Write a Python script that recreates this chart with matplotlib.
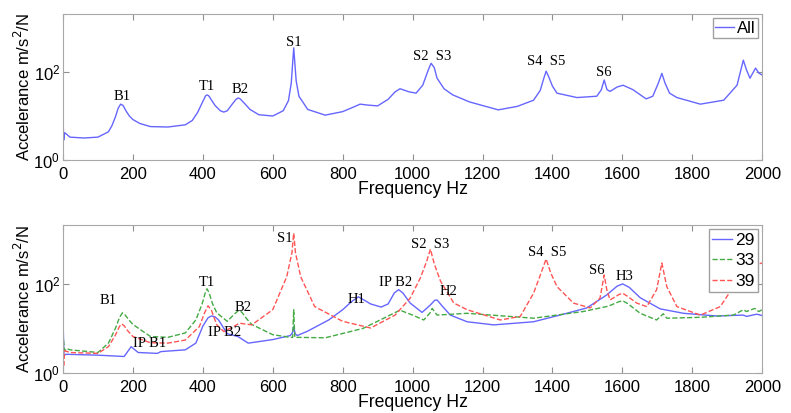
import numpy as np
import matplotlib.pyplot as plt

# accelerance readings, stored as log10 values
freq_all = [0, 2, 5, 10, 20, 60, 100, 130, 140, 150, 158, 165, 172, 180, 190, 200, 220, 250, 300, 350,
            370, 385, 400, 408, 413, 418, 425, 435, 450, 460, 470, 485, 495, 501, 507, 520, 535, 560, 600,
            630, 645, 653, 660, 667, 675, 700, 750, 800, 830, 850, 870, 900, 930, 950, 964, 990, 1010, 1029,
            1045, 1053, 1062, 1070, 1090, 1115, 1163, 1245, 1300, 1346, 1365, 1375, 1382, 1390, 1400, 1413,
            1470, 1527, 1540, 1548, 1556, 1565, 1585, 1602, 1630, 1668, 1687, 1703, 1713, 1722, 1735, 1756,
            1823, 1890, 1928, 1946, 1955, 1965, 1981, 1990, 2000]
log_all = [1.05, 0.45, 0.62, 0.59, 0.52, 0.50, 0.52, 0.64, 0.78, 0.98, 1.18, 1.27, 1.24, 1.12, 1.00, 0.92,
           0.83, 0.76, 0.75, 0.80, 0.90, 1.08, 1.33, 1.46, 1.48, 1.45, 1.36, 1.24, 1.12, 1.09, 1.12, 1.28,
           1.38, 1.41, 1.39, 1.28, 1.15, 1.03, 1.00, 1.12, 1.35, 1.75, 2.55, 1.80, 1.45, 1.15, 1.02, 1.10,
           1.20, 1.27, 1.25, 1.23, 1.38, 1.55, 1.62, 1.55, 1.52, 1.70, 2.05, 2.20, 2.10, 1.86, 1.62, 1.48,
           1.32, 1.14, 1.22, 1.36, 1.58, 1.85, 2.02, 1.88, 1.68, 1.52, 1.42, 1.45, 1.60, 1.82, 1.60, 1.56,
           1.66, 1.70, 1.60, 1.39, 1.45, 1.75, 1.97, 1.75, 1.52, 1.42, 1.27, 1.36, 1.70, 2.27, 2.05, 1.86,
           2.09, 1.98, 1.93]

freq_29 = [0, 3, 10, 100, 175, 185, 195, 215, 270, 280, 350, 380, 400, 415, 425, 435, 445, 470, 500, 530,
           600, 650, 656, 660, 664, 670, 700, 760, 800, 825, 845, 865, 880, 910, 930, 948, 960, 972, 993,
           1027, 1050, 1063, 1070, 1085, 1108, 1156, 1232, 1346, 1441, 1498, 1555, 1585, 1601, 1620, 1651,
           1708, 1775, 1870, 1946, 1955, 1984, 2000]
log_29 = [1.20, 0.40, 0.42, 0.40, 0.37, 0.48, 0.59, 0.46, 0.44, 0.48, 0.52, 0.67, 1.05, 1.24, 1.28, 1.26,
          1.19, 0.88, 0.82, 0.67, 0.75, 0.84, 0.90, 1.04, 0.88, 0.84, 0.94, 1.19, 1.42, 1.60, 1.71, 1.62,
          1.55, 1.48, 1.55, 1.80, 1.87, 1.80, 1.57, 1.36, 1.52, 1.63, 1.64, 1.50, 1.30, 1.15, 1.08, 1.15,
          1.34, 1.46, 1.75, 1.95, 2.00, 1.92, 1.69, 1.44, 1.34, 1.28, 1.30, 1.27, 1.32, 1.29]

freq_33 = [0, 4, 10, 20, 100, 130, 150, 162, 170, 178, 190, 200, 250, 300, 350, 380, 398, 407, 412, 418,
           428, 440, 470, 490, 500, 505, 512, 525, 540, 600, 650, 657, 660, 663, 670, 750, 858, 964, 1000,
           1032, 1050, 1056, 1070, 1156, 1346, 1488, 1560, 1590, 1601, 1615, 1651, 1698, 1717, 1727, 1823,
           1918, 1946, 1955, 1979, 1990, 2000]
log_33 = [0.90, 0.50, 0.55, 0.52, 0.46, 0.67, 1.00, 1.25, 1.35, 1.30, 1.18, 1.09, 0.82, 0.80, 0.90, 1.19,
          1.55, 1.80, 1.89, 1.80, 1.55, 1.35, 1.16, 1.32, 1.39, 1.40, 1.36, 1.22, 1.09, 0.86, 0.80, 0.80,
          1.42, 0.80, 0.80, 0.79, 1.00, 1.41, 1.30, 1.19, 1.35, 1.45, 1.30, 1.34, 1.23, 1.38, 1.50, 1.60,
          1.62, 1.56, 1.34, 1.19, 1.33, 1.23, 1.25, 1.30, 1.42, 1.38, 1.45, 1.38, 1.42]

freq_39 = [0, 2, 5, 20, 100, 130, 150, 162, 168, 175, 185, 200, 250, 300, 350, 390, 405, 415, 425, 440,
           460, 490, 505, 520, 540, 600, 640, 655, 660, 665, 680, 720, 800, 880, 950, 993, 1022, 1040, 1051,
           1062, 1080, 1118, 1156, 1251, 1308, 1346, 1370, 1382, 1395, 1413, 1460, 1508, 1536, 1548, 1556,
           1565, 1590, 1601, 1615, 1641, 1670, 1698, 1713, 1727, 1756, 1823, 1880, 1918, 1956, 2000]
log_39 = [0.46, 0.14, 0.50, 0.46, 0.44, 0.59, 0.85, 1.05, 1.10, 1.06, 0.95, 0.82, 0.68, 0.67, 0.74, 1.04,
          1.35, 1.51, 1.40, 1.08, 0.93, 1.05, 1.12, 1.10, 1.08, 1.42, 2.16, 2.70, 3.14, 2.70, 2.16, 1.49,
          1.16, 1.01, 1.30, 1.68, 2.13, 2.50, 2.78, 2.45, 2.06, 1.57, 1.42, 1.19, 1.27, 1.79, 2.30, 2.56,
          2.25, 1.94, 1.57, 1.46, 1.68, 2.20, 1.85, 1.64, 1.76, 1.79, 1.72, 1.57, 1.49, 1.87, 2.47, 1.94,
          1.49, 1.30, 1.49, 1.94, 2.38, 2.47]

# mode labels: (text, freq, log10 level)
labels_top = [("B1", 169, 1.45), ("T1", 413, 1.66), ("B2", 507, 1.61), ("S1", 659, 2.68),
              ("S2  S3", 1055, 2.36), ("S4  S5", 1382, 2.23), ("S6", 1546, 1.98)]
labels_bottom = [("B1", 130, 1.62), ("IP B1", 249, 0.67), ("T1", 413, 2.04), ("B2", 516, 1.48),
                 ("IP B2", 463, 0.92), ("S1", 635, 3.03), ("H1", 840, 1.66), ("IP B2", 950, 2.04),
                 ("S2  S3", 1050, 2.88), ("H2", 1102, 1.84), ("S4  S5", 1384, 2.70),
                 ("S6", 1527, 2.31), ("H3", 1605, 2.16)]

plt.rcParams['font.family'] = ['Liberation Sans', 'DejaVu Sans']

fig = plt.figure(figsize=(7.91, 4.13), dpi=100)
ax1 = fig.add_axes([0.0796, 0.6126, 0.884, 0.3535])
ax2 = fig.add_axes([0.0796, 0.0969, 0.884, 0.358])


def style_axes(ax, labels):
    ax.set_yscale('log')
    ax.set_xlim(0, 2000)
    ax.set_ylim(1, 10 ** 3.32)
    ax.set_xticks(np.arange(0, 2001, 200))
    ax.set_yticks([1, 100])
    ax.yaxis.set_minor_locator(plt.NullLocator())
    ax.tick_params(direction='in', top=True, right=True, labelsize=12, length=4, color='#909090', pad=2)
    ax.tick_params(axis='x', pad=5)
    for sp in ax.spines.values():
        sp.set_color('#a8a8a8')
    ax.set_xlabel("Frequency Hz", fontsize=12.7, labelpad=-1)
    ax.set_ylabel("Accelerance m/s$^2$/N", fontsize=12, labelpad=0)
    for txt, fx, ly in labels:
        ax.text(fx, 10 ** ly, txt, family='Liberation Serif', fontsize=10.5, ha='center', va='center')


ax1.plot(freq_all, 10 ** np.array(log_all), color='#6666ff', lw=1, label='All')
style_axes(ax1, labels_top)
ax1.legend(loc='upper right', fontsize=12, fancybox=False, edgecolor='#a0a0a0', handlelength=1.1,
           handletextpad=0.2, borderpad=0.15, borderaxespad=0.25, framealpha=1)

ax2.plot(freq_29, 10 ** np.array(log_29), color='#6666ff', lw=1, label='29')
ax2.plot(freq_33, 10 ** np.array(log_33), '--', color='#44aa44', lw=1, label='33')
ax2.plot(freq_39, 10 ** np.array(log_39), '--', color='#ff5555', lw=1, label='39')
style_axes(ax2, labels_bottom)
ax2.legend(loc='upper right', fontsize=12.5, fancybox=False, edgecolor='#a0a0a0', handlelength=1.1,
           handletextpad=0.2, borderpad=0.2, borderaxespad=0.25, framealpha=1, labelspacing=0.3)

fig.savefig("out.png", dpi=100)
